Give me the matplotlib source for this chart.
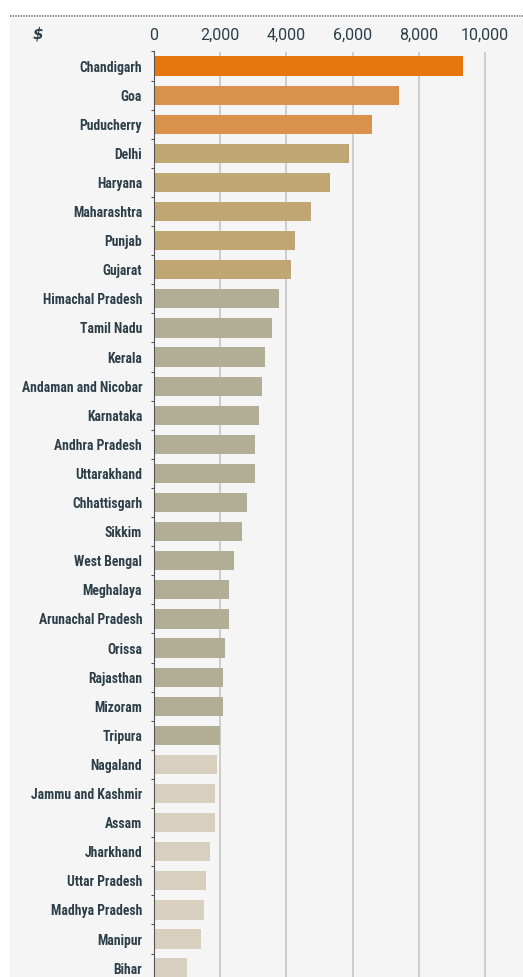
import numpy as np
import matplotlib
matplotlib.use("Agg")
import matplotlib.pyplot as plt
from matplotlib.patches import Rectangle
from matplotlib.lines import Line2D
from matplotlib.ticker import FuncFormatter, MultipleLocator

# income per head, USD
states = ["Chandigarh", "Goa", "Puducherry", "Delhi", "Haryana", "Maharashtra",
          "Punjab", "Gujarat", "Himachal Pradesh", "Tamil Nadu", "Kerala",
          "Andaman and Nicobar", "Karnataka", "Andhra Pradesh", "Uttarakhand",
          "Chhattisgarh", "Sikkim", "West Bengal", "Meghalaya", "Arunachal Pradesh",
          "Orissa", "Rajasthan", "Mizoram", "Tripura", "Nagaland",
          "Jammu and Kashmir", "Assam", "Jharkhand", "Uttar Pradesh",
          "Madhya Pradesh", "Manipur", "Bihar"]
values = [9330, 7400, 6600, 5890, 5330, 4750, 4270, 4140, 3770, 3560, 3350,
          3250, 3180, 3060, 3050, 2810, 2660, 2420, 2270, 2270, 2160, 2080,
          2070, 2000, 1890, 1830, 1830, 1700, 1580, 1500, 1430, 1010]
# colour group of each bar
groups = [0, 1, 1, 2, 2, 2, 2, 2] + [3] * 16 + [4] * 8
palette = ["#e5770e", "#d9914c", "#c0a672", "#b2ad95", "#d8cfbf"]
xticks = [0, 2000, 4000, 6000, 8000, 10000]

W, H = 523, 977
fig = plt.figure(figsize=(W / 100, H / 100), dpi=100, facecolor="white")

# grey panel and dotted rule on top
fig.patches.append(Rectangle((10 / W, 0), 1 - 10 / W, 1 - 18 / H,
                             transform=fig.transFigure, facecolor="#f5f5f5",
                             edgecolor="none", zorder=-1))
fig.lines.append(Line2D([10 / W, 1], [1 - 16 / H, 1 - 16 / H], transform=fig.transFigure,
                        color="#666666", lw=1.2, ls=(0, (0.8, 0.8))))

left = 154 / W
top = 1 - 51.5 / H
ax = fig.add_axes([left, 0, 1 - left, top])
ax.set_facecolor("none")

xmax = (W - 154) / 33.1 * 1000
row = 29.1
ymax = (H - 66) / row

y = np.arange(len(states))
ax.barh(y, values, height=0.66, color=[palette[g] for g in groups], zorder=3)

ax.set_xlim(0, xmax)
ax.set_ylim(ymax, -0.5)

font = ["Roboto Condensed", "Liberation Sans Narrow", "DejaVu Sans"]

ax.set_xticks(xticks)
ax.xaxis.tick_top()
ax.xaxis.set_major_formatter(FuncFormatter(lambda v, p: f"{int(v):,}"))
ax.grid(axis="x", color="#c9c9c9", lw=1.3, zorder=1)
ax.tick_params(axis="x", length=0, pad=6, labelcolor="#2c3e48")

ax.set_yticks(y)
ax.set_yticklabels(states)
ax.yaxis.set_minor_locator(MultipleLocator(1, offset=0.5))
ax.tick_params(axis="y", which="major", length=0, pad=8.5)
ax.tick_params(axis="y", which="minor", length=2.5, width=0.8, color="#555555")
for lab in ax.get_yticklabels():
    lab.set_fontfamily(font)
    lab.set_fontweight("bold")
    lab.set_fontsize(9.8)
    lab.set_color("#2c3e48")
for lab in ax.get_xticklabels():
    lab.set_fontfamily(["Roboto", "DejaVu Sans"])
    lab.set_fontsize(11.5)

for s in ["top", "right", "bottom"]:
    ax.spines[s].set_visible(False)
ax.spines["left"].set_color("#555555")
ax.spines["left"].set_linewidth(0.8)
ax.spines["left"].set_zorder(4)

fig.text(38 / W, 1 - 34 / H, r"\$", ha="center", va="center", fontsize=11,
         fontstyle="italic", fontweight="bold", color="#2c3e48")

fig.savefig("out.png", dpi=100, facecolor="white")
